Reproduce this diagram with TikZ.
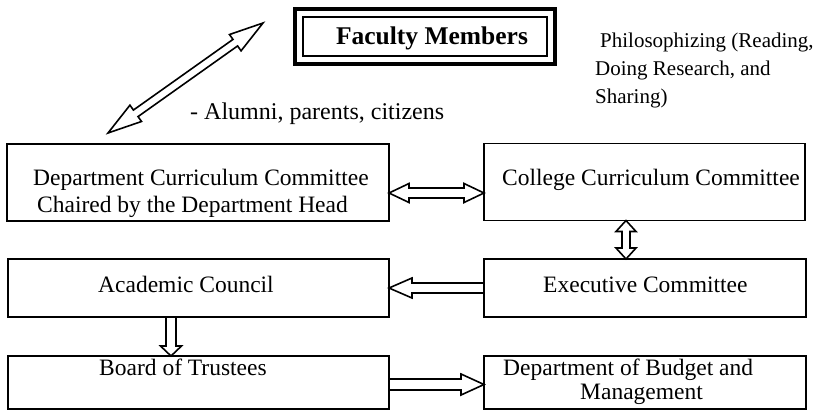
\documentclass[tikz,border=0pt]{standalone}
\usepackage{fontspec}
\setmainfont{Liberation Serif}
\usetikzlibrary{calc}

\tikzset{
  box/.style={draw=black, line width=1.3pt, inner sep=0pt, outer sep=0pt},
  boxtext/.style={font=\fontsize{23.5}{27}\selectfont, inner sep=0pt, anchor=base west},
  notetext/.style={font=\fontsize{21}{28}\selectfont, inner sep=0pt, anchor=base west},
  blockarrow/.style={draw=black, line width=1.6pt, fill=white, line join=miter},
}

% outlined block arrow with a head at both ends:
% #1 from, #2 to, #3 shaft half width, #4 head half width, #5 head length
\newcommand\blockarrowtwo[5]{%
  \coordinate (ba-c) at ($(#1)!#5!(#2)$);
  \coordinate (ba-d) at ($(#2)!#5!(#1)$);
  \draw[blockarrow] (#1) -- ($(ba-c)!#4!90:(#2)$) -- ($(ba-c)!#3!90:(#2)$)
    -- ($(ba-d)!#3!-90:(#1)$) -- ($(ba-d)!#4!-90:(#1)$) -- (#2)
    -- ($(ba-d)!#4!90:(#1)$) -- ($(ba-d)!#3!90:(#1)$)
    -- ($(ba-c)!#3!-90:(#2)$) -- ($(ba-c)!#4!-90:(#2)$) -- cycle;}

% outlined block arrow with one head: #1 tail, #2 tip, then as above
\newcommand\blockarrowone[5]{%
  \coordinate (ba-d) at ($(#2)!#5!(#1)$);
  \draw[blockarrow] ($(#1)!#3!90:(#2)$) -- ($(ba-d)!#3!-90:(#1)$)
    -- ($(ba-d)!#4!-90:(#1)$) -- (#2) -- ($(ba-d)!#4!90:(#1)$)
    -- ($(ba-d)!#3!90:(#1)$) -- ($(#1)!#3!-90:(#2)$) -- cycle;}

\begin{document}
\begin{tikzpicture}[x=1pt, y=-1pt]
\useasboundingbox (0,0) rectangle (813,413);

% Faculty members: heavy frame with a thin inner rule
\node[box, line width=4pt, minimum width=260pt, minimum height=55pt] (fac) at (425,36.5) {};
\draw[line width=1.4pt] ([shift={(8,8)}]fac.north west) rectangle ([shift={(-8,-8)}]fac.south east);
\node[inner sep=0pt, anchor=base, font=\fontsize{25.5}{28}\selectfont\bfseries] (facT) at (432,44) {Faculty Members};

\node[notetext] (ph1) at (600,47) {Philosophizing (Reading,};
\node[notetext] (ph2) at (595,75) {Doing Research, and};
\node[notetext] (ph3) at (595,103) {Sharing)};

\node[inner sep=0pt, anchor=base west, font=\fontsize{24}{28}\selectfont] (alum) at (190,119) {- Alumni, parents, citizens};

% committee boxes
\node[box, minimum width=382pt, minimum height=77pt] (dept) at (198,182.5) {};
\node[box, minimum width=321pt, minimum height=77pt] (college) at (644.5,182) {};
\node[box, minimum width=381pt, minimum height=58pt] (acad) at (198.5,288) {};
\node[box, minimum width=322pt, minimum height=58pt] (exec) at (645,288) {};
\node[box, minimum width=381pt, minimum height=53pt] (board) at (198.5,382.5) {};
\node[box, minimum width=322pt, minimum height=53pt] (budget) at (645,382.5) {};

\node[boxtext] (deptT1) at (33,185) {Department Curriculum Committee};
\node[boxtext] (deptT2) at (37,212) {Chaired by the Department Head};
\node[boxtext] (collegeT) at (502,185) {College Curriculum Committee};
\node[boxtext] (acadT) at (98,292) {Academic Council};
\node[boxtext] (execT) at (543,292) {Executive Committee};
\node[boxtext] (boardT) at (99,375) {Board of Trustees};
\node[boxtext] (budgetT1) at (503,375) {Department of Budget and};
\node[boxtext] (budgetT2) at (580,399) {Management};

% connectors
\coordinate (diagLow) at (108,133);
\coordinate (diagHigh) at (263,23);
\blockarrowtwo{diagLow}{diagHigh}{4pt}{10pt}{34pt}

\coordinate (dcL) at ($(dept.east)+(0,10.5)$);
\coordinate (dcR) at ($(college.west)+(0,11)$);
\blockarrowtwo{dcL}{dcR}{5pt}{9.5pt}{20pt}

\coordinate (ceT) at ($(college.south)+(-18.5,0)$);
\coordinate (ceB) at ($(exec.north)+(-19,0)$);
\blockarrowtwo{ceT}{ceB}{4pt}{10pt}{11pt}

\blockarrowone{exec.west}{acad.east}{5pt}{10pt}{23pt}

\coordinate (abT) at ($(acad.south)+(-27.5,0)$);
\coordinate (abB) at ($(board.north)+(-27.5,0)$);
\blockarrowone{abT}{abB}{5pt}{10.5pt}{10pt}

\coordinate (bbL) at ($(board.east)+(0,2)$);
\coordinate (bbR) at ($(budget.west)+(0,2)$);
\blockarrowone{bbL}{bbR}{5.5pt}{10.5pt}{23pt}
\end{tikzpicture}
\end{document}
